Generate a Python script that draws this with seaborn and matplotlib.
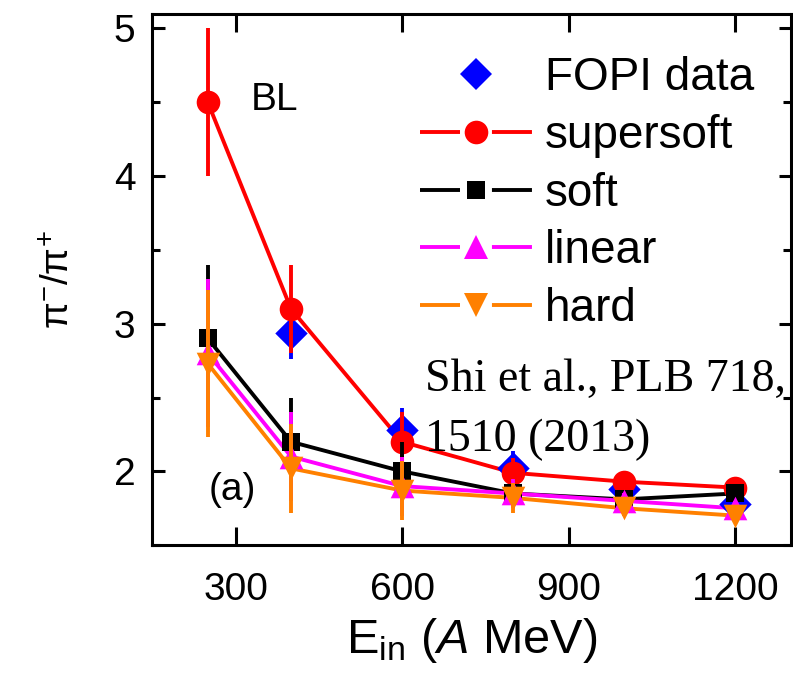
import matplotlib
matplotlib.use("Agg")
import matplotlib.pyplot as plt
import seaborn as sns
import pandas as pd
from matplotlib.lines import Line2D
from matplotlib.ticker import MultipleLocator

sns.set_theme(style="ticks")
plt.rcParams['font.family'] = ['Liberation Sans', 'DejaVu Sans']
plt.rcParams['mathtext.fontset'] = 'custom'
plt.rcParams['mathtext.rm'] = 'Liberation Sans'
plt.rcParams['mathtext.it'] = 'Liberation Sans:italic'
plt.rcParams['lines.scale_dashes'] = False
for k in ['text.color', 'axes.labelcolor', 'xtick.color', 'ytick.color', 'axes.edgecolor']:
    plt.rcParams[k] = 'black'

# Data
energy = [250, 400, 600, 800, 1000, 1200]
fopi_energy = [400, 600, 800, 1000, 1200]
fopi = [2.94, 2.28, 2.02, 1.88, 1.78]
fopi_err = [0.18, 0.15, 0.12, 0.08, 0.06]
supersoft = [4.5, 3.1, 2.2, 1.99, 1.93, 1.89]
soft = [2.9, 2.2, 2.0, 1.85, 1.81, 1.85]
linear = [2.8, 2.1, 1.9, 1.85, 1.8, 1.75]
hard = [2.73, 2.02, 1.87, 1.82, 1.75, 1.7]
model_err = [0.5, 0.3, 0.2, 0.1, 0.05, 0.05]

series = [
    ("supersoft", supersoft, "#ff0000", "o", 17),
    ("soft", soft, "#000000", "s", 12.5),
    ("linear", linear, "#ff00ff", "^", 17),
    ("hard", hard, "#ff8000", "v", 17),
]
LW = 2.8

fig = plt.figure(figsize=(7.93, 6.84), dpi=100)
ax = fig.add_axes([0.192, 0.203, 0.805, 0.777])

dff = pd.DataFrame({"E": fopi_energy, "r": fopi})
ax.errorbar(fopi_energy, fopi, yerr=fopi_err, fmt="none", ecolor="#0000ff", elinewidth=LW, capsize=0, zorder=2.5)
sns.scatterplot(data=dff, x="E", y="r", color="#0000ff", marker="D", s=16.5**2, linewidth=0, ax=ax, zorder=2.6)

for i, (name, vals, col, mk, ms) in enumerate(series):
    df = pd.DataFrame({"E": energy, "r": vals})
    sns.lineplot(data=df, x="E", y="r", color=col, lw=LW, ax=ax, zorder=2)
    sns.scatterplot(data=df, x="E", y="r", color=col, marker=mk, s=ms**2, linewidth=0, ax=ax, zorder=3 + i * 0.1)
    ax.errorbar(energy, vals, yerr=model_err, fmt="none", ecolor=col, elinewidth=LW, capsize=0, zorder=3.05 + i * 0.1)

ax.set_xlim(150, 1300)
ax.set_ylim(1.5, 5.1)
ax.xaxis.set_major_locator(MultipleLocator(300))
ax.yaxis.set_major_locator(MultipleLocator(1))
ax.yaxis.set_minor_locator(MultipleLocator(0.5))
ax.tick_params(axis="both", which="both", direction="in", top=True, right=True, width=2.2)
ax.tick_params(axis="both", which="major", labelsize=28)
ax.tick_params(axis="x", which="major", length=13, pad=19)
ax.tick_params(axis="y", which="major", length=9, pad=12)
ax.tick_params(axis="y", which="minor", length=5.5)
for s in ax.spines.values():
    s.set_linewidth(2.2)
    s.set_color("black")

ax.set_xlabel(r"E$_{\mathrm{in}}$ ($\mathit{A}$ MeV)", fontsize=35, labelpad=6)
ax.set_ylabel(r"$\mathrm{π}^{-}/\mathrm{π}^{+}$", fontsize=28, labelpad=26)

ax.text(0.155, 0.838, "BL", fontsize=28, transform=ax.transAxes, ha="left", va="center")
ax.text(0.088, 0.104, "(a)", fontsize=28, transform=ax.transAxes, ha="left", va="center")
ax.text(0.428, 0.255, "Shi et al., PLB 718,\n1510 (2013)", fontsize=33, family="Liberation Serif",
        transform=ax.transAxes, ha="left", va="center", linespacing=1.52)

handles = [Line2D([], [], color="#0000ff", marker="D", ls="none", ms=16.5, mew=0)]
labels = ["FOPI data"]
for name, vals, col, mk, ms in series:
    handles.append(Line2D([], [], color=col, marker=mk, lw=LW, ls=(0, (28.8, 23.0)), ms=ms, mew=0))
    labels.append(name)
leg = ax.legend(handles, labels, loc="upper left", bbox_to_anchor=(0.42, 0.92), frameon=False,
                fontsize=33, handlelength=2.44, handletextpad=0.28, labelspacing=0.3,
                borderaxespad=0, borderpad=0)

fig.savefig("out.png", dpi=100)
